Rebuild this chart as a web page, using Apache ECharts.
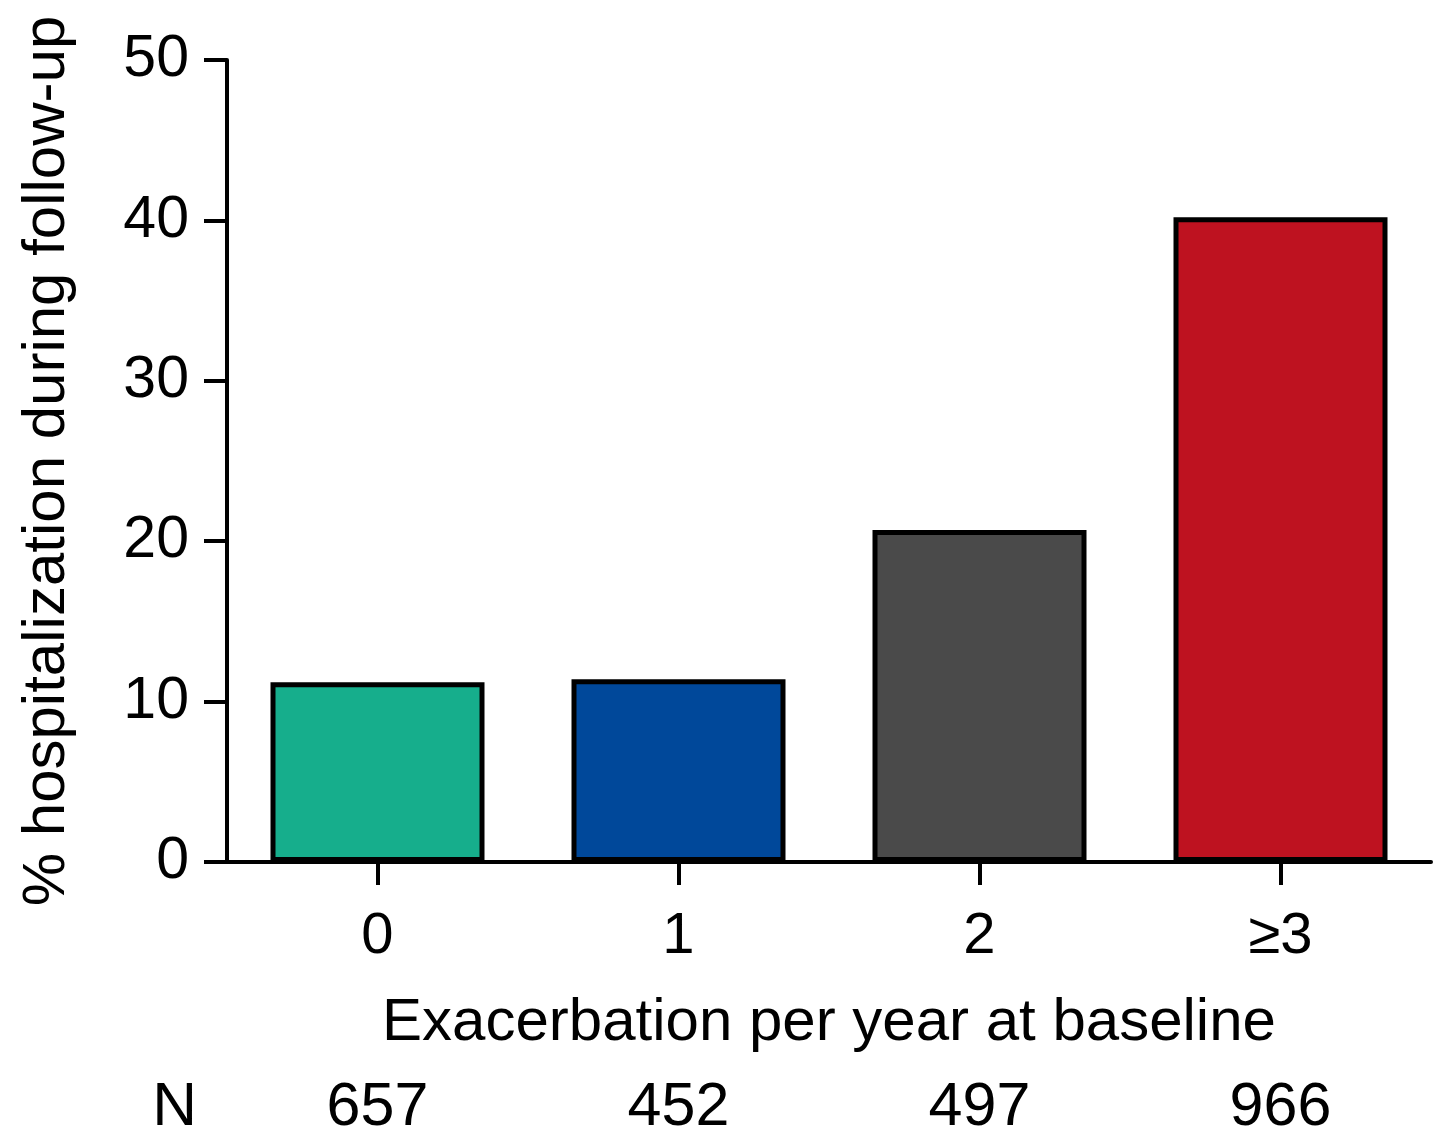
<!DOCTYPE html>
<html>
<head>
<meta charset="utf-8">
<title>Hospitalization by baseline exacerbation rate</title>
<script src="https://cdn.jsdelivr.net/npm/echarts@6/dist/echarts.min.js"></script>
<style>
  html, body { margin: 0; padding: 0; background: #fff; }
  #chart { width: 1438px; height: 1139px; }
</style>
</head>
<body>
<div id="chart"></div>
<script>
// Exacerbations per year at baseline (x categories)
const categories = ['0', '1', '2', '\u22653'];
// % of patients hospitalized during follow-up
const hospitalizationPct = [11.2, 11.4, 20.7, 40.2];
// Number of patients in each group
const patientCounts = ['657', '452', '497', '966'];
// Fill colour for each group's bar
const barColors = ['#16AE8C', '#00489A', '#4A4A4A', '#BE1220'];
// Value axis range
const yMin = 0, yMax = 50, yStep = 10;

const FONT = '"Liberation Sans", Arial, Helvetica, sans-serif';
const INK = '#000';

const chart = echarts.init(document.getElementById('chart'), null, { renderer: 'canvas' });

chart.setOption({
  animation: false,
  backgroundColor: '#fff',
  grid: { left: 227, right: 7, top: 60, bottom: 277, containLabel: false },
  xAxis: [
    {
      type: 'category',
      data: categories,
      position: 'bottom',
      axisLine: { show: true, lineStyle: { color: INK, width: 4 } },
      axisTick: { show: true, alignWithLabel: true, length: 23, lineStyle: { color: INK, width: 4 } },
      axisLabel: { color: INK, fontFamily: FONT, fontSize: 58, margin: 46 },
      name: 'Exacerbation per year at baseline',
      nameLocation: 'middle',
      nameGap: 131,
      nameTextStyle: { color: INK, fontFamily: FONT, fontSize: 60 },
      splitLine: { show: false }
    },
    {
      // row of patient counts under the axis title
      type: 'category',
      data: patientCounts,
      position: 'bottom',
      offset: 246,
      axisLine: { show: false },
      axisTick: { show: false },
      axisLabel: { color: INK, fontFamily: FONT, fontSize: 61, margin: 0, verticalAlign: 'middle' },
      name: 'N',
      nameLocation: 'start',
      nameGap: 30,
      nameTextStyle: { color: INK, fontFamily: FONT, fontSize: 62, verticalAlign: 'middle' },
      splitLine: { show: false }
    }
  ],
  yAxis: {
    type: 'value',
    min: yMin,
    max: yMax,
    interval: yStep,
    axisLine: { show: true, lineStyle: { color: INK, width: 4 } },
    axisTick: { show: true, length: 23, lineStyle: { color: INK, width: 4 } },
    axisLabel: { color: INK, fontFamily: FONT, fontSize: 59, margin: 38 },
    splitLine: { show: false },
    name: '% hospitalization during follow-up',
    nameLocation: 'middle',
    nameGap: 150,
    nameTextStyle: { color: INK, fontFamily: FONT, fontSize: 60 }
  },
  series: [
    {
      type: 'bar',
      xAxisIndex: 0,
      barWidth: 214,
      data: hospitalizationPct.map((v, i) => ({
        value: v,
        itemStyle: { color: barColors[i], borderColor: INK, borderWidth: 5 }
      })),
      emphasis: { disabled: true }
    }
  ]
});
</script>
</body>
</html>
